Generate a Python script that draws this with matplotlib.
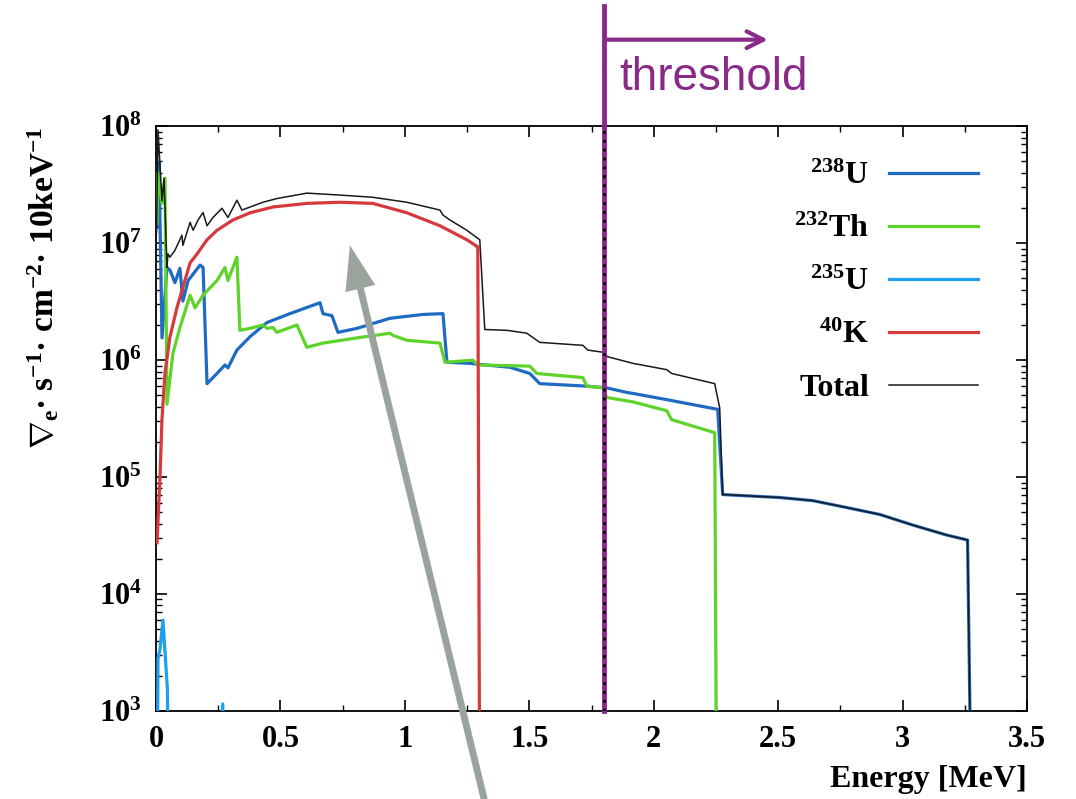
import numpy as np
import matplotlib
matplotlib.use("Agg")
import matplotlib.pyplot as plt
from matplotlib.ticker import FixedLocator, FuncFormatter, LogLocator, NullFormatter

plt.rcParams.update({
    "font.family": "serif",
    "font.serif": ["Liberation Serif", "DejaVu Serif"],
    "font.weight": "bold",
    "mathtext.fontset": "custom",
    "mathtext.rm": "Liberation Serif:bold",
    "mathtext.bf": "Liberation Serif:bold",
    "mathtext.it": "Liberation Serif:bold",
    "mathtext.default": "bf",
    "font.size": 22,
    "axes.linewidth": 1.3,
    "xtick.direction": "in",
    "ytick.direction": "in",
    "xtick.top": True,
    "ytick.right": True,
})

# ---- data (energy in MeV, flux per 10 keV) ----
# values of 1e2 sit below the axis floor and just draw the drop to the bottom
u238_e = [0.004, 0.012, 0.024, 0.044, 0.056, 0.076, 0.096, 0.108, 0.129, 0.177,
          0.189, 0.205, 0.245, 0.277, 0.289, 0.325, 0.378, 0.446, 0.538, 0.659,
          0.671, 0.707, 0.731, 0.807, 0.940, 1.072, 1.153, 1.169, 1.261, 1.301,
          1.422, 1.502, 1.542, 1.731, 1.811, 1.892, 1.916, 2.052, 2.257, 2.277,
          2.506, 2.639, 2.775, 2.908, 3.040, 3.177, 3.261, 3.277]
u238_y = [1.37e7, 4.9e7, 1.55e6, 6.2e6, 5.9e6, 4.6e6, 6.1e6, 3.2e6, 4.8e6, 6.5e6,
          6.2e6, 6.3e5, 7.7e5, 9.1e5, 8.6e5, 1.22e6, 1.59e6, 2.1e6, 2.5e6, 3.1e6,
          2.5e6, 2.4e6, 1.73e6, 1.87e6, 2.28e6, 2.46e6, 2.5e6, 9.6e5, 9.4e5, 9.2e5,
          8.7e5, 7.7e5, 6.3e5, 6.0e5, 5.8e5, 5.3e5, 5.2e5, 4.6e5, 3.8e5, 7.1e4,
          6.7e4, 6.3e4, 5.5e4, 4.8e4, 3.9e4, 3.2e4, 2.9e4, 1e2]

th232_e = [0.004, 0.008, 0.024, 0.036, 0.044, 0.068, 0.096, 0.137, 0.157, 0.189,
           0.245, 0.277, 0.289, 0.325, 0.337, 0.378, 0.430, 0.446, 0.470, 0.486,
           0.566, 0.606, 0.671, 0.807, 0.940, 0.952, 1.008, 1.141, 1.161, 1.273,
           1.293, 1.502, 1.530, 1.715, 1.731, 1.795, 1.811, 1.916, 2.052, 2.072,
           2.245, 2.253]
th232_y = [1.48e7, 4.0e7, 2.2e7, 3.6e7, 4.2e5, 1.15e6, 1.9e6, 3.6e6, 2.8e6, 3.6e6,
           4.8e6, 6.2e6, 4.8e6, 7.6e6, 1.8e6, 1.87e6, 2.0e6, 1.87e6, 1.9e6, 1.73e6,
           2.0e6, 1.29e6, 1.40e6, 1.55e6, 1.70e6, 1.63e6, 1.48e6, 1.40e6, 9.6e5, 1.0e6,
           9.1e5, 8.9e5, 7.7e5, 7.1e5, 6.0e5, 5.8e5, 4.8e5, 4.4e5, 3.7e5, 3.1e5,
           2.4e5, 1e2]

u235_e = [0.003, 0.008, 0.016, 0.028, 0.046, 0.050, 0.248, 0.268, 0.285]
u235_y = [1e2, 2.8e3, 3.4e3, 6.0e3, 1.5e3, 1e2, 1e2, 1.15e3, 1e2]

k40_e = [0.004, 0.016, 0.024, 0.036, 0.056, 0.084, 0.108, 0.137, 0.165, 0.205,
         0.245, 0.309, 0.378, 0.470, 0.606, 0.739, 0.871, 1.008, 1.141, 1.249,
         1.293, 1.301]
k40_y = [2.75e4, 1.0e5, 3.16e5, 7.8e5, 1.58e6, 2.8e6, 4.2e6, 6.8e6, 8.1e6, 1.07e7,
         1.29e7, 1.58e7, 1.82e7, 2.04e7, 2.19e7, 2.24e7, 2.19e7, 1.82e7, 1.41e7, 1.07e7,
         9.3e6, 1e2]

tot_e = [0.002, 0.008, 0.024, 0.032, 0.044, 0.048, 0.056, 0.076, 0.104, 0.108,
         0.137, 0.149, 0.169, 0.189, 0.205, 0.229, 0.265, 0.289, 0.325, 0.345,
         0.378, 0.430, 0.486, 0.606, 0.739, 0.871, 1.008, 1.141, 1.153, 1.181,
         1.249, 1.301, 1.321, 1.410, 1.490, 1.542, 1.715, 1.735, 1.795, 1.815,
         1.916, 2.052, 2.072, 2.245, 2.265, 2.277, 2.506, 2.639, 2.775, 2.908,
         3.040, 3.177, 3.261, 3.277]
tot_y = [1.23e7, 9.3e7, 2.3e7, 3.6e7, 6.2e6, 8.1e6, 7.6e6, 8.7e6, 1.17e7, 9.6e6,
         1.51e7, 1.29e7, 1.58e7, 1.83e7, 1.41e7, 1.66e7, 1.99e7, 1.66e7, 2.33e7, 1.92e7,
         2.04e7, 2.24e7, 2.41e7, 2.68e7, 2.58e7, 2.47e7, 2.24e7, 1.92e7, 1.74e7, 1.58e7,
         1.29e7, 1.07e7, 1.83e6, 1.80e6, 1.70e6, 1.42e6, 1.34e6, 1.22e6, 1.17e6, 1.07e6,
         9.4e5, 8.3e5, 7.7e5, 6.3e5, 3.9e5, 7.1e4, 6.7e4, 6.3e4, 5.5e4, 4.8e4,
         3.9e4, 3.2e4, 2.9e4, 1e2]

threshold = 1.8
x_ticks = [0, 0.5, 1, 1.5, 2, 2.5, 3, 3.5]
y_ticks = [1e3, 1e4, 1e5, 1e6, 1e7, 1e8]

PURPLE = "#8a2a88"

fig = plt.figure(figsize=(10.76, 7.99), dpi=100)
ax = fig.add_axes([0.145, 0.110, 0.8095, 0.732])

lw = 2.3
l_u238, = ax.plot(u238_e, u238_y, color="#1f6bc4", lw=lw, label=r"$^{238}$U", zorder=3)
l_th, = ax.plot(th232_e, th232_y, color="#5ed42a", lw=lw, label=r"$^{232}$Th", zorder=3)
l_k, = ax.plot(k40_e, k40_y, color="#d63a3c", lw=lw, label=r"$^{40}$K", zorder=3)
l_u235, = ax.plot(u235_e, u235_y, color="#1ea0ee", lw=lw, label=r"$^{235}$U", zorder=3)
l_tot, = ax.plot(tot_e, tot_y, color="#1a1a1a", lw=1.1, label="Total", zorder=4)

ax.set_yscale("log")
ax.set_xlim(0, 3.5)
ax.set_ylim(1e3, 1e8)

ax.xaxis.set_major_locator(FixedLocator(x_ticks))
ax.xaxis.set_minor_locator(FixedLocator(np.arange(0.25, 3.5, 0.5)))
ax.xaxis.set_major_formatter(FuncFormatter(lambda v, p: f"{v:g}"))
ax.yaxis.set_major_locator(FixedLocator(y_ticks))
ax.yaxis.set_minor_locator(LogLocator(base=10, subs=np.arange(2, 10)))
ax.yaxis.set_minor_formatter(NullFormatter())
ax.yaxis.set_major_formatter(FuncFormatter(lambda v, p: f"$10^{{{int(round(np.log10(v)))}}}$"))
ax.tick_params(which="major", length=8, width=1.2, labelsize=22, pad=10)
ax.tick_params(which="minor", length=4, width=1.0)

ax.set_xlabel("Energy [MeV]", fontsize=23, fontweight="bold", loc="right", labelpad=8)
fig.text(0.04, 0.64, "$\\nabla_{e}$· s$^{-1}$· cm$^{-2}$· 10keV$^{-1}$",
         rotation=90, ha="center", va="center", fontsize=24, fontweight="bold")

leg = ax.legend([l_u238, l_th, l_u235, l_k, l_tot],
                [h.get_label() for h in [l_u238, l_th, l_u235, l_k, l_tot]],
                loc="upper right", bbox_to_anchor=(0.962, 0.966), frameon=False,
                markerfirst=False, handlelength=2.8, handletextpad=0.6,
                labelspacing=0.74, borderpad=0, fontsize=23)

# threshold marker: purple bar from the top of the figure, dotted line inside
ax.axvline(threshold, ymin=0, ymax=1.205, color=PURPLE, lw=3.5, clip_on=False, zorder=5)
ax.axvline(threshold, color="black", lw=2.0, ls=(0, (1, 2.2)), zorder=6)
ax.annotate("", xy=(2.47, 1.148), xycoords=("data", "axes fraction"),
            xytext=(threshold, 1.148), textcoords=("data", "axes fraction"),
            arrowprops=dict(arrowstyle="->", color=PURPLE, lw=3, mutation_scale=30),
            annotation_clip=False)
ax.text(1.86, 1.062, "threshold", transform=ax.get_xaxis_transform(), color=PURPLE,
        fontsize=33, fontweight="normal", family="Liberation Sans", ha="left",
        va="baseline", clip_on=False)

# grey pointer arrow coming up from below the axes
ax.annotate("", xy=(0.779, 9.6e6), xycoords="data",
            xytext=(1.341, -0.19), textcoords=("data", "axes fraction"),
            arrowprops=dict(width=5, headwidth=22, headlength=32, color="#9aa49d",
                            shrink=0, lw=0),
            annotation_clip=False, zorder=7)

fig.savefig("out.png", dpi=100)
